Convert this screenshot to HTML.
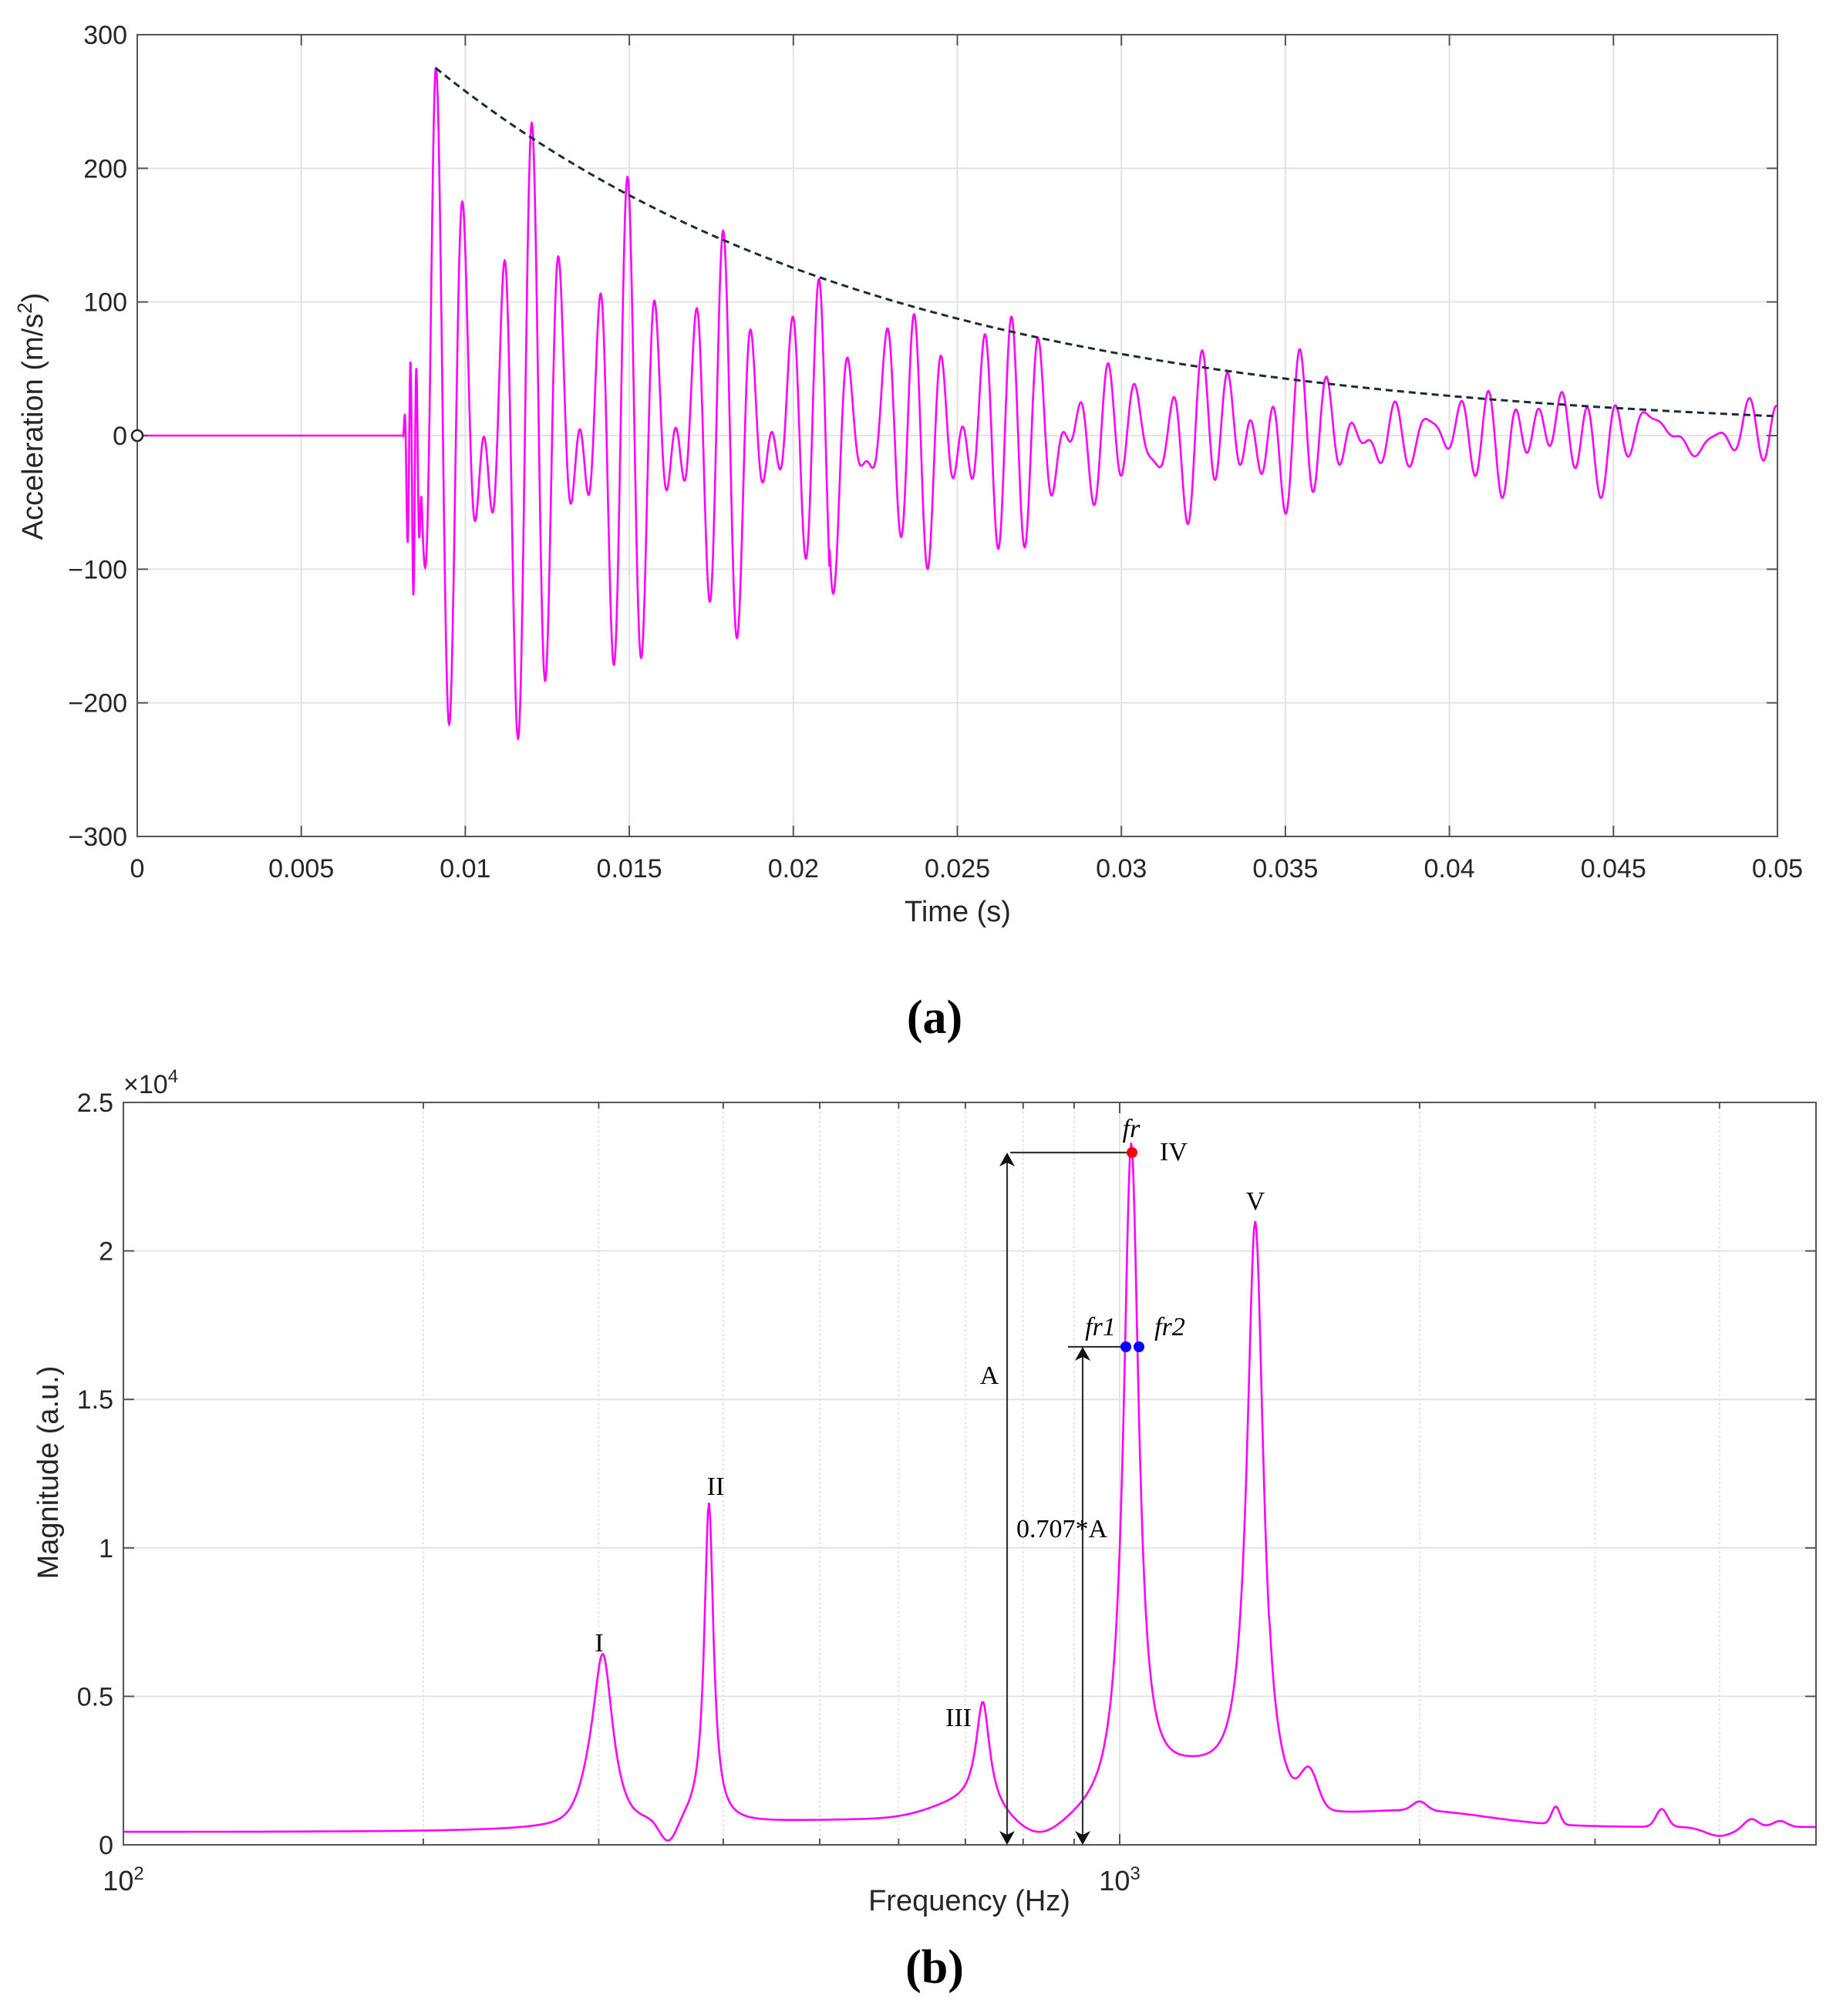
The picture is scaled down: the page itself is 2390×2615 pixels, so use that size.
<!DOCTYPE html>
<html><head><meta charset="utf-8">
<style>
html,body{margin:0;padding:0;background:#fff;}
svg{display:block;}
text{font-family:"Liberation Sans",sans-serif;fill:#262626;}
.t{font-size:34px;}
.s{font-family:"Liberation Serif",serif;font-size:34px;fill:#000;}
</style></head>
<body>
<svg id="svg" width="2390" height="2615" viewBox="0 0 2390 2615" xmlns="http://www.w3.org/2000/svg">
<rect width="2390" height="2615" fill="#fff"/>
<g id="grid1" stroke="#e3e3e3" stroke-width="2"></g>
<g id="grid2" stroke="#e3e3e3" stroke-width="2"></g>
<path id="sig" fill="none" stroke="#ff00ff" stroke-width="2.6"/>
<path id="env" fill="none" stroke="#1c2b3a" stroke-width="3" stroke-dasharray="9,6"/>
<path id="spec" fill="none" stroke="#ff00ff" stroke-width="2.6"/>
<rect x="178" y="45" width="2127" height="1040" fill="none" stroke="#555" stroke-width="2"/>
<rect x="160" y="1430" width="2195" height="963" fill="none" stroke="#555" stroke-width="2"/>
<g id="ticks" stroke="#555" stroke-width="2"></g>
<g id="labels"></g>
<circle cx="178" cy="565" r="7" fill="#fff" stroke="#222" stroke-width="2.5"/>
<text x="40" y="525" class="t" font-size="38" text-anchor="middle" transform="rotate(-90 55 525)" style="font-size:38px">Acceleration (m/s<tspan dy="-14" style="font-size:26px">2</tspan><tspan dy="14">)</tspan></text>
<text x="1242" y="1195" text-anchor="middle" style="font-size:38px">Time (s)</text>
<text x="1212" y="1340" text-anchor="middle" style="font-family:'Liberation Serif',serif;font-size:62px;font-weight:bold;fill:#000">(a)</text>
<text x="1257" y="2478" text-anchor="middle" style="font-size:38px">Frequency (Hz)</text>
<text x="75" y="1910" text-anchor="middle" transform="rotate(-90 75 1910)" style="font-size:38px">Magnitude (a.u.)</text>
<text x="1212" y="2572" text-anchor="middle" style="font-family:'Liberation Serif',serif;font-size:62px;font-weight:bold;fill:#000">(b)</text>
<text x="160" y="1418" style="font-size:34px">×10<tspan dy="-14" style="font-size:24px">4</tspan></text>
<text x="160" y="2452" text-anchor="middle" style="font-size:36px">10<tspan dy="-14" style="font-size:24px">2</tspan></text>
<text x="1452" y="2452" text-anchor="middle" style="font-size:36px">10<tspan dy="-14" style="font-size:24px">3</tspan></text>
<g stroke="#333" stroke-width="2.2" fill="none">
<line x1="1310" y1="1495" x2="1468" y2="1495"/>
<line x1="1385" y1="1747" x2="1460" y2="1747"/>
<line x1="1306" y1="1500" x2="1306" y2="2388"/>
<line x1="1404" y1="1752" x2="1404" y2="2388"/>
</g>
<g fill="#111">
<path d="M1306 1495 l-10 18 l10 -5 l10 5z"/>
<path d="M1306 2393 l-10 -18 l10 5 l10 -5z"/>
<path d="M1404 1747 l-10 18 l10 -5 l10 5z"/>
<path d="M1404 2393 l-10 -18 l10 5 l10 -5z"/>
</g>
<circle cx="1468" cy="1495" r="7" fill="#ff0000"/>
<circle cx="1460" cy="1747" r="7" fill="#0000ff"/>
<circle cx="1477" cy="1747" r="7" fill="#0000ff"/>
<text x="1467" y="1475" class="s" text-anchor="middle" style="font-style:italic">fr</text>
<text x="1427" y="1732" class="s" text-anchor="middle" style="font-style:italic">fr1</text>
<text x="1517" y="1732" class="s" text-anchor="middle" style="font-style:italic">fr2</text>
<text x="1522" y="1505" class="s" text-anchor="middle">IV</text>
<text x="1628" y="1569" class="s" text-anchor="middle">V</text>
<text x="777" y="2142" class="s" text-anchor="middle">I</text>
<text x="928" y="1939" class="s" text-anchor="middle">II</text>
<text x="1243" y="2239" class="s" text-anchor="middle">III</text>
<text x="1283" y="1795" class="s" text-anchor="middle">A</text>
<text x="1377" y="1994" class="s" text-anchor="middle">0.707*A</text>
</svg>
<script>
var NS="http://www.w3.org/2000/svg";
function el(p,tag,a,txt){var e=document.createElementNS(NS,tag);for(var k in a)e.setAttribute(k,a[k]);if(txt!==undefined)e.textContent=txt;p.appendChild(e);return e;}
var g1=document.getElementById('grid1'),g2=document.getElementById('grid2'),tk=document.getElementById('ticks'),lb=document.getElementById('labels');
var L=178,R=2305,T=45,B=1085;
function X1(t){return L+(t/0.05)*(R-L);}
function Y1(v){return 565-v*(520/300);}
var xl=["0","0.005","0.01","0.015","0.02","0.025","0.03","0.035","0.04","0.045","0.05"];
for(var i=0;i<=10;i++){var x=L+i*(R-L)/10;
 if(i>0&&i<10)el(g1,'line',{x1:x,y1:T,x2:x,y2:B});
 el(tk,'line',{x1:x,y1:B,x2:x,y2:B-14});el(tk,'line',{x1:x,y1:T,x2:x,y2:T+14});
 el(lb,'text',{x:x,y:1138,'text-anchor':'middle','class':'t'},xl[i]);}
for(var v=-300;v<=300;v+=100){var y=Y1(v);
 if(v>-300&&v<300)el(g1,'line',{x1:L,y1:y,x2:R,y2:y});
 el(tk,'line',{x1:L,y1:y,x2:L+14,y2:y});el(tk,'line',{x1:R,y1:y,x2:R-14,y2:y});
 el(lb,'text',{x:165,y:y+12,'text-anchor':'end','class':'t'},(v<0?'\u2212'+(-v):''+v));}
var d="";var N=6000;
for(var i=0;i<=N;i++){var t=0.05*i/N;var v=0;
 if(t>0.0081&&t<0.0087){var w=Math.sin(Math.PI*(t-0.0081)/0.0006);v+=90*w*Math.sin(2*Math.PI*5500*(t-0.0081))-30*w;}
 if(t>0.0085){var tp=t-0.0091;var r=Math.min(1,(t-0.0085)/0.0006);r=r*r*(3-2*r);
  var e=Math.exp(-70*Math.max(tp,-0.001));
  v+=r*(e*(140*Math.cos(2*Math.PI*1027*tp)+135*Math.cos(2*Math.PI*1368*tp))
   +12*Math.exp(-30*tp)*Math.sin(2*Math.PI*729*tp)+10*Math.exp(-20*tp)*Math.sin(2*Math.PI*387*tp)
   +8*Math.sin(2*Math.PI*303*tp)+ (tp>0.012? 18*Math.exp(-15*(tp-0.012))*Math.cos(2*Math.PI*1250*tp):0));}
 d+=(i?"L":"M")+X1(t).toFixed(1)+" "+Y1(v).toFixed(1);}
document.getElementById('sig').setAttribute('d',d);
d="";for(var i=0;i<=200;i++){var t=0.0091+(0.05-0.0091)*i/200;var v=275*Math.exp(-72*(t-0.0091));d+=(i?"L":"M")+X1(t).toFixed(1)+" "+Y1(v).toFixed(1);}
document.getElementById('env').setAttribute('d',d);
var L2=160,R2=2355,T2=1430,B2=2393,DEC=1292;
function X2(f){return L2+(Math.log10(f)-2)*DEC;}
function Y2(m){return B2-m*(963/2.5);}
[200,300,400,500,600,700,800,900,1000,2000,3000,4000].forEach(function(f){var x=X2(f);
 el(g2,'line',{x1:x,y1:T2,x2:x,y2:B2,'stroke-dasharray':(f==1000?'':'3,3')});
 var len=(f==1000)?14:8;el(tk,'line',{x1:x,y1:B2,x2:x,y2:B2-len});el(tk,'line',{x1:x,y1:T2,x2:x,y2:T2+len});});
var yl=["0","0.5","1","1.5","2","2.5"];
for(var i=0;i<=5;i++){var y=Y2(i*0.5);
 if(i>0&&i<5)el(g2,'line',{x1:L2,y1:y,x2:R2,y2:y});
 el(tk,'line',{x1:L2,y1:y,x2:L2+14,y2:y});el(tk,'line',{x1:R2,y1:y,x2:R2-14,y2:y});
 el(lb,'text',{x:147,y:y+12,'text-anchor':'end','class':'t'},yl[i]);}
function lor(f,f0,A,g){return A*g*g/((f-f0)*(f-f0)+g*g);}
function gau(f,f0,A,w){var z=(Math.log10(f)-Math.log10(f0))/w;return A*Math.exp(-z*z);}
d="";var M=1500;
for(var i=0;i<=M;i++){var lf=2+(Math.log10(5000)-2)*i/M;var f=Math.pow(10,lf);
 var base=0.04+0.035*Math.exp(-Math.pow((lf-2.75)/0.25,2));
 if(lf>3.15)base=0.06+0.05*Math.exp(-Math.pow((lf-3.3)/0.1,2));
 var m=base+lor(f,303,0.45,8)+gau(f,300,0.14,0.02)+lor(f,387,1.08,5)+lor(f,729,0.36,14)+gau(f,700,0.05,0.05)
  +lor(f,1027,2.24,22)+lor(f,1368,2.0,32)+gau(f,1180,0.15,0.06)+gau(f,1550,0.12,0.012)
  +gau(f,2740,0.06,0.006)+gau(f,3500,0.06,0.008)+gau(f,2000,0.03,0.01)+gau(f,4300,0.03,0.01)+gau(f,4600,0.02,0.01);
 m*=1-0.85*Math.exp(-Math.pow((lf-Math.log10(352))/0.012,2));
 m*=1-0.6*Math.exp(-Math.pow((lf-Math.log10(830))/0.03,2));
 m*=1-0.5*Math.exp(-Math.pow((lf-Math.log10(4000))/0.02,2));
 d+=(i?"L":"M")+X2(f).toFixed(1)+" "+Y2(m).toFixed(1);}
document.getElementById('spec').setAttribute('d',d);
</script>
</body></html>
